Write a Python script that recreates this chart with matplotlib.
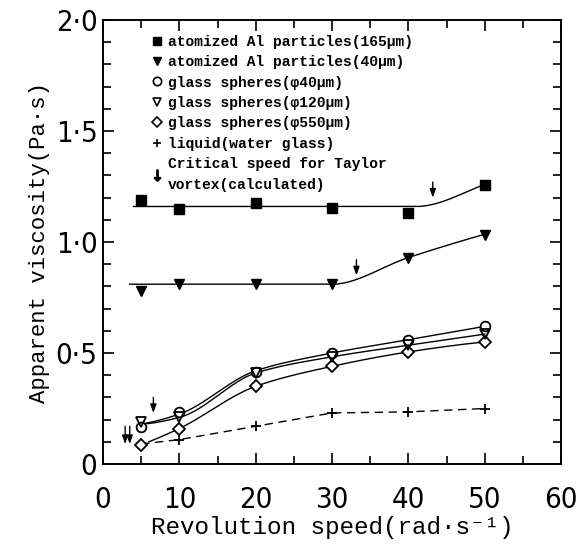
import numpy as np
import matplotlib
matplotlib.use("Agg")
from matplotlib import pyplot as plt
from matplotlib.lines import Line2D

# measured points
speed = [5, 10, 20, 30, 40, 50]
al_165 = [1.19, 1.15, 1.175, 1.155, 1.13, 1.255]
al_40 = [0.78, 0.81, 0.81, 0.81, 0.93, 1.03]
gs_40 = [0.165, 0.235, 0.415, 0.50, 0.56, 0.62]
gs_120 = [0.19, 0.21, 0.41, 0.48, 0.535, 0.585]
gs_550 = [0.085, 0.16, 0.35, 0.44, 0.505, 0.55]
liquid = [0.09, 0.11, 0.17, 0.23, 0.235, 0.25]

# guide curves drawn by hand through the points
fit_165_x = [4.0, 41.0, 50.0]
fit_165_y = [1.16, 1.16, 1.26]
fit_40_x = [3.5, 30.0, 40.0, 50.0]
fit_40_y = [0.81, 0.81, 0.93, 1.035]
fit_g40_x = [5.0, 10.0, 20.0, 30.0, 40.0, 50.0]
fit_g40_y = [0.18, 0.225, 0.42, 0.50, 0.56, 0.62]
fit_g120_x = [5.0, 10.0, 20.0, 30.0, 40.0, 50.0]
fit_g120_y = [0.18, 0.21, 0.41, 0.483, 0.535, 0.585]
fit_g550_x = [6.0, 10.0, 20.0, 30.0, 40.0, 50.0]
fit_g550_y = [0.10, 0.16, 0.35, 0.44, 0.505, 0.55]

# critical speed for Taylor vortex (arrow x, arrow tip y)
crit_x = [43.2, 33.2, 6.6, 2.9, 3.5]
crit_y = [1.20, 0.85, 0.23, 0.09, 0.09]
crit_len = [0.07, 0.07, 0.07, 0.08, 0.08]


def pchip(xk, yk, n=200):
    xk = np.asarray(xk, float)
    yk = np.asarray(yk, float)
    h = np.diff(xk)
    d = np.diff(yk) / h
    m = np.zeros_like(xk)
    for i in range(1, len(xk) - 1):
        if d[i - 1] * d[i] > 0:
            w1 = 2 * h[i] + h[i - 1]
            w2 = h[i] + 2 * h[i - 1]
            m[i] = (w1 + w2) / (w1 / d[i - 1] + w2 / d[i])
    m[0] = d[0]
    m[-1] = d[-1]
    if len(xk) > 2:
        m[0] = ((2 * h[0] + h[1]) * d[0] - h[0] * d[1]) / (h[0] + h[1])
        if np.sign(m[0]) != np.sign(d[0]):
            m[0] = 0
        m[-1] = ((2 * h[-1] + h[-2]) * d[-1] - h[-1] * d[-2]) / (h[-1] + h[-2])
        if np.sign(m[-1]) != np.sign(d[-1]):
            m[-1] = 0
    xs = np.linspace(xk[0], xk[-1], n)
    idx = np.clip(np.searchsorted(xk, xs) - 1, 0, len(xk) - 2)
    t = (xs - xk[idx]) / h[idx]
    h00 = 2 * t**3 - 3 * t**2 + 1
    h10 = t**3 - 2 * t**2 + t
    h01 = -2 * t**3 + 3 * t**2
    h11 = t**3 - t**2
    ys = h00 * yk[idx] + h10 * h[idx] * m[idx] + h01 * yk[idx + 1] + h11 * h[idx] * m[idx + 1]
    return xs, ys


mono = ['Liberation Mono', 'DejaVu Sans Mono']

fig = plt.figure(figsize=(5.81, 5.47), dpi=100)
ax = fig.add_axes([0.1773, 0.1517, 0.7883, 0.8117])

lw = 1.0
for fx, fy in [(fit_165_x, fit_165_y), (fit_40_x, fit_40_y), (fit_g40_x, fit_g40_y),
               (fit_g120_x, fit_g120_y), (fit_g550_x, fit_g550_y)]:
    xs, ys = pchip(fx, fy)
    ax.plot(xs, ys, color='black', lw=lw, zorder=2)
ax.plot(speed, liquid, color='black', lw=lw, linestyle=(0, (6, 4)), zorder=2)

ms = 7
ax.plot(speed, al_165, linestyle='', marker='s', ms=ms, mfc='black', mec='black', zorder=3)
ax.plot(speed, al_40, linestyle='', marker='v', ms=ms, mfc='black', mec='black', zorder=3)
ax.plot(speed, gs_40, linestyle='', marker='o', ms=ms, mfc='white', mec='black', mew=1.3, zorder=4)
ax.plot(speed, gs_120, linestyle='', marker='v', ms=ms, mfc='none', mec='black', mew=1.3, zorder=4)
ax.plot(speed, gs_550, linestyle='', marker='D', ms=6, mfc='white', mec='black', mew=1.3, zorder=3)
ax.plot(speed[1:], liquid[1:], linestyle='', marker='+', ms=7, mec='black', mew=1.3, zorder=3)

for cx, cy, cl in zip(crit_x, crit_y, crit_len):
    ax.annotate('', xy=(cx, cy), xytext=(cx, cy + cl),
                arrowprops=dict(arrowstyle='-|>,head_length=0.5,head_width=0.18',
                                color='black', lw=1.0, shrinkA=0, shrinkB=0))

ax.set_xlim(0, 60)
ax.set_ylim(0, 2.0)
ax.set_xticks(np.arange(0, 61, 10))
ax.set_xticks(np.arange(5, 60, 10), minor=True)
ax.set_yticks([0, 0.5, 1.0, 1.5, 2.0])
ax.set_yticks(np.arange(0.1, 2.0, 0.1), minor=True)
ax.set_yticklabels(['0', '0·5', '1·0', '1·5', '2·0'], family='DejaVu Sans',
                   stretch='condensed', fontsize=21)
ax.set_xticklabels([str(v) for v in range(0, 61, 10)], family='DejaVu Sans',
                   stretch='condensed', fontsize=21)
ax.tick_params(which='both', direction='in', top=True, right=True, width=1.2)
ax.tick_params(axis='x', which='major', length=8, pad=16)
ax.tick_params(axis='y', which='major', length=8, pad=4)
ax.tick_params(which='minor', length=6)
for sp in ax.spines.values():
    sp.set_linewidth(1.4)

ax.set_xlabel('Revolution speed(rad·s⁻¹)', family=mono, fontsize=17.5, labelpad=1)
ax.set_ylabel('Apparent viscosity(Pa·s)', family=mono, fontsize=16, labelpad=4)

handles = [
    Line2D([], [], linestyle='', marker='s', ms=6, mfc='black', mec='black'),
    Line2D([], [], linestyle='', marker='v', ms=6, mfc='black', mec='black'),
    Line2D([], [], linestyle='', marker='o', ms=6, mfc='white', mec='black', mew=1.2),
    Line2D([], [], linestyle='', marker='v', ms=6, mfc='white', mec='black', mew=1.2),
    Line2D([], [], linestyle='', marker='D', ms=5, mfc='white', mec='black', mew=1.2),
    Line2D([], [], linestyle='', marker='+', ms=6, mec='black', mew=1.2),
    Line2D([], [], linestyle='', marker=r'$\downarrow$', ms=8, mfc='black', mec='black'),
]
labels = [
    'atomized Al particles(165μm)',
    'atomized Al particles(40μm)',
    'glass spheres(φ40μm)',
    'glass spheres(φ120μm)',
    'glass spheres(φ550μm)',
    'liquid(water glass)',
    'Critical speed for Taylor\nvortex(calculated)',
]
leg = ax.legend(handles, labels, loc='upper left', bbox_to_anchor=(0.085, 0.99),
                frameon=False, handlelength=0.6, handletextpad=0.5, labelspacing=0.44,
                borderpad=0.2, prop={'family': mono, 'weight': 'bold', 'size': 10.5})
for t in leg.get_texts():
    t.set_linespacing(1.6)

fig.savefig('out.png', dpi=100)
